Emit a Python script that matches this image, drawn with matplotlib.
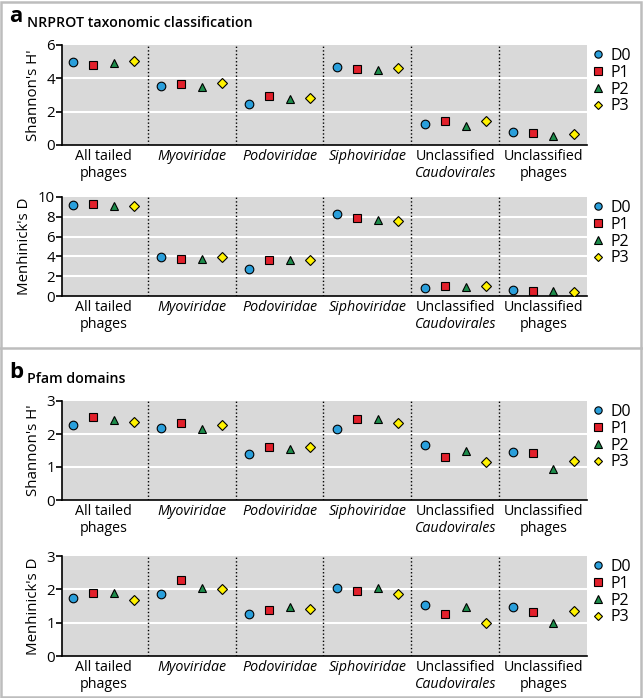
import numpy as np
import matplotlib.pyplot as plt
from matplotlib.lines import Line2D
from matplotlib.patches import Rectangle

plt.rcParams['font.family'] = ['Open Sans', 'DejaVu Sans']

groups = [("All tailed", "phages"), ("Myoviridae", ""), ("Podoviridae", ""),
          ("Siphoviridae", ""), ("Unclassified", "Caudovirales"), ("Unclassified", "phages")]
italic_first = [False, True, True, True, False, False]
italic_second = [False, False, False, False, True, False]

samples = ["D0", "P1", "P2", "P3"]

# values per sample, one entry per group
nrprot_shannon = {
    "D0": [4.96, 3.56, 2.48, 4.70, 1.28, 0.80],
    "P1": [4.82, 3.64, 2.92, 4.58, 1.46, 0.70],
    "P2": [4.92, 3.48, 2.74, 4.52, 1.16, 0.56],
    "P3": [5.04, 3.70, 2.84, 4.64, 1.46, 0.64],
}
nrprot_menhinick = {
    "D0": [9.23, 3.98, 2.77, 8.28, 0.81, 0.65],
    "P1": [9.33, 3.74, 3.64, 7.92, 1.05, 0.51],
    "P2": [9.10, 3.75, 3.62, 7.68, 0.94, 0.50],
    "P3": [9.06, 3.94, 3.64, 7.58, 0.98, 0.37],
}
pfam_shannon = {
    "D0": [2.27, 2.18, 1.38, 2.14, 1.67, 1.46],
    "P1": [2.52, 2.34, 1.62, 2.46, 1.31, 1.42],
    "P2": [2.43, 2.14, 1.54, 2.44, 1.48, 0.93],
    "P3": [2.37, 2.28, 1.62, 2.34, 1.14, 1.17],
}
pfam_menhinick = {
    "D0": [1.73, 1.87, 1.26, 2.04, 1.54, 1.46],
    "P1": [1.90, 2.29, 1.38, 1.96, 1.26, 1.31],
    "P2": [1.90, 2.03, 1.46, 2.05, 1.48, 1.00],
    "P3": [1.67, 2.01, 1.42, 1.87, 0.99, 1.35],
}

styles = {
    "D0": dict(marker="o", color="#2a9fdb", ms=6.2),
    "P1": dict(marker="s", color="#e2202b", ms=6.0),
    "P2": dict(marker="^", color="#1d8c4b", ms=6.4),
    "P3": dict(marker="D", color="#fff200", ms=5.2),
}

period = 4.3
fs = 10.3


def draw_panel(ax, data, ymax, yticks, ylabel):
    ax.set_facecolor("#d9d9d9")
    for y in yticks[1:-1]:
        ax.axhline(y, color="white", lw=1.5, zorder=1)
    for g in range(1, len(groups)):
        ax.axvline(g * period - 0.65, color="black", lw=1, ls=(0, (1, 1.6)), zorder=2)
    for k, s in enumerate(samples):
        xs = np.arange(len(groups)) * period + k
        st = styles[s]
        ax.plot(xs, data[s], ls="none", marker=st["marker"], ms=st["ms"],
                mfc=st["color"], mec="black", mew=0.8, zorder=3, label=s)
    ax.set_xlim(-0.54, 25.14)
    ax.set_ylim(0, ymax)
    ax.set_yticks(yticks)
    ax.set_xticks([])
    for sp in ["top", "right"]:
        ax.spines[sp].set_visible(False)
    ax.spines["left"].set_linewidth(1.2)
    ax.spines["bottom"].set_linewidth(1.2)
    ax.tick_params(axis="y", direction="out", length=4, width=1.2, labelsize=fs + 0.5, pad=1)
    ax.set_ylabel(ylabel, fontsize=fs + 0.5, labelpad=4)
    for g, (l1, l2) in enumerate(groups):
        cx = g * period + 1.5
        ax.annotate(l1, (cx, 0), xycoords=("data", "axes fraction"), xytext=(0, -3),
                    textcoords="offset points", ha="center", va="top", fontsize=fs,
                    style="italic" if italic_first[g] else "normal")
        if l2:
            ax.annotate(l2, (cx, 0), xycoords=("data", "axes fraction"), xytext=(0, -15),
                        textcoords="offset points", ha="center", va="top", fontsize=fs,
                        style="italic" if italic_second[g] else "normal")
    ax.legend(loc="upper left", bbox_to_anchor=(1.012, 0.97), frameon=False,
              handlelength=0.6, handletextpad=0.45, labelspacing=0.05,
              borderaxespad=0, borderpad=0, fontsize=11.5, markerscale=0.85)


fig = plt.figure(figsize=(6.43, 6.98), dpi=100)
W, H = 643.0, 698.0
left, width = 62 / W, 525 / W

ax1 = fig.add_axes([left, 1 - 145 / H, width, 100 / H])
ax2 = fig.add_axes([left, 1 - 296 / H, width, 99 / H])
ax3 = fig.add_axes([left, 1 - 500 / H, width, 99 / H])
ax4 = fig.add_axes([left, 1 - 656 / H, width, 100 / H])

draw_panel(ax1, nrprot_shannon, 6, [0, 2, 4, 6], "Shannon's H'")
draw_panel(ax2, nrprot_menhinick, 10, [0, 2, 4, 6, 8, 10], "Menhinick's D")
draw_panel(ax3, pfam_shannon, 3, [0, 1, 2, 3], "Shannon's H'")
draw_panel(ax4, pfam_menhinick, 3, [0, 1, 2, 3], "Menhinick's D")

fig.text(9 / W, 1 - 22 / H, "a", fontsize=16, fontweight="bold", va="baseline")
fig.text(27 / W, 1 - 27 / H, "NRPROT taxonomic classification", fontsize=10.2,
         fontweight="semibold", va="baseline")
fig.text(9 / W, 1 - 378 / H, "b", fontsize=16, fontweight="bold", va="baseline")
fig.text(27 / W, 1 - 383 / H, "Pfam domains", fontsize=10.2,
         fontweight="semibold", va="baseline")

# panel frames
fig.add_artist(Rectangle((0.002, 0.002), 0.995, 0.995, transform=fig.transFigure,
                         fill=False, ec="#bdbdbd", lw=1.8))
fig.add_artist(Line2D([0, 1], [1 - 348 / H, 1 - 348 / H], transform=fig.transFigure,
                      color="#bdbdbd", lw=1.8))

fig.savefig("out.png", dpi=100)
